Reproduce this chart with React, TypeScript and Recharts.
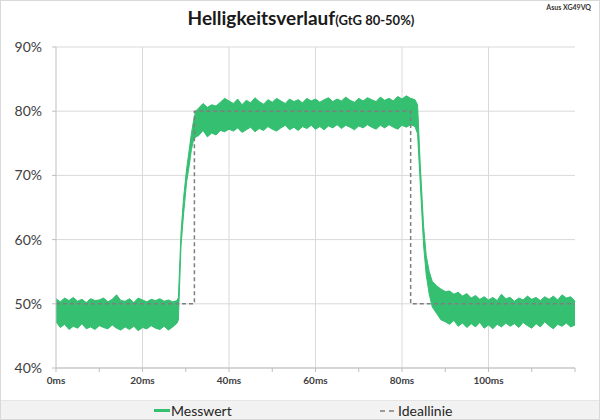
import React from "react";
import { ComposedChart, Area, Line, XAxis, YAxis, CartesianGrid } from "recharts";

// Messwert: Hüllkurve (min/max) des verrauschten Signals, in ms / %
const times = [
  0, 1, 2, 3, 4, 5, 6, 7, 8, 9, 10, 11, 12, 13, 14, 15, 16, 17, 18, 19, 20, 21, 22, 23, 24, 25, 26, 27, 28,
  28.3, 28.9, 29.5, 30.2, 30.8, 31.3, 31.8, 32.3, 33, 34,
  35, 36, 37, 38, 39, 40, 41, 42, 43, 44, 45, 46, 47, 48, 49, 50, 51, 52, 53, 54, 55, 56, 57, 58, 59,
  60, 61, 62, 63, 64, 65, 66, 67, 68, 69, 70, 71, 72, 73, 74, 75, 76, 77, 78, 79, 80, 81, 82, 83,
  83.6, 84.2, 85, 85.6, 86.3, 87, 88, 89, 90,
  91, 92, 93, 94, 95, 96, 97, 98, 99, 100, 101, 102, 103, 104, 105, 106, 107, 108, 109, 110,
  111, 112, 113, 114, 115, 116, 117, 118, 119, 120,
];
const lowValues = [
  47.2, 46.3, 46.8, 46.0, 46.5, 46.2, 46.9, 46.1, 46.4, 46.0, 46.6, 46.3, 46.1, 46.7, 46.2, 45.9, 46.4, 46.0, 46.5, 45.8, 46.3, 46.1, 46.6, 46.2, 46.0, 46.5, 45.9, 46.4, 47.0,
  47.5, 59, 64, 69, 71.5, 74, 75.5, 76, 76.2, 77,
  76.0, 76.6, 76.3, 77.0, 76.8, 77.2, 76.9, 77.4, 76.7, 77.1, 77.5, 76.8, 77.3, 77.0, 77.6, 77.2, 76.9, 77.4, 77.8, 77.1, 77.5, 77.0, 77.6, 77.3, 77.8,
  77.2, 77.6, 77.1, 77.7, 77.4, 77.9, 77.3, 77.8, 77.5, 77.1, 77.7, 77.4, 77.9, 77.5, 77.2, 77.8, 77.4, 77.9, 77.5, 77.2, 77.8, 77.5, 77.9, 77.6,
  76.5, 69, 59, 54.5, 51.5, 49.5, 48.5, 47.5, 47.2,
  46.8, 47.4, 46.5, 47.0, 46.3, 46.9, 46.4, 47.1, 46.2, 46.7, 46.1, 46.8, 46.4, 47.0, 46.5, 46.9, 46.3, 47.1, 46.6, 46.2,
  46.9, 46.4, 47.2, 46.6, 46.1, 46.8, 46.5, 47.0, 46.4, 46.7,
];
const highValues = [
  50.8, 50.3, 50.9, 50.5, 51.0, 50.4, 50.7, 50.2, 50.8, 50.5, 50.6, 50.9, 50.3, 50.7, 51.4, 50.5, 50.4, 50.8, 50.2, 50.9, 50.6, 50.3, 50.7, 50.5, 50.8, 50.4, 50.6, 50.3, 50.5,
  51, 61, 66.5, 71, 74, 76.5, 78.5, 80, 80.5, 81.2,
  80.6, 81.0, 80.8, 81.4, 82.0, 81.6, 81.2, 81.9, 81.0, 81.7, 81.3, 82.1, 81.5, 81.1, 81.8, 81.4, 82.0, 81.6, 81.2, 81.9, 81.5, 81.8, 81.3, 82.0, 81.6,
  81.9, 81.4, 81.8, 82.1, 81.5, 81.9, 81.6, 82.2, 81.7, 81.4, 82.0, 81.6, 82.1, 81.8, 81.5, 82.2, 81.7, 82.0, 81.6, 82.3, 81.9, 82.4, 82.0, 81.8,
  81.0, 72, 62, 57.5, 55, 53.5, 52.8, 52.3, 51.9,
  52.0, 51.5, 51.8, 51.2, 51.6, 50.9, 51.3, 50.7, 51.1, 50.6, 51.0, 50.5, 51.5, 50.8, 51.0, 50.4, 50.9, 50.6, 51.2, 50.7,
  51.0, 50.5, 51.1, 50.7, 51.2, 50.6, 51.4, 50.9, 51.1, 50.4,
];

// Ideallinie (Sprung 50% -> 80% -> 50%)
const idealTimes = [0, 32, 32, 82, 82, 120];
const idealValues = [50, 50, 80, 80, 50, 50];

const xTicks = [0, 10, 20, 30, 40, 50, 60, 70, 80, 90, 100, 110, 120];
const xGrid = [20, 40, 60, 80, 100];
const yTicks = [40, 50, 60, 70, 80, 90];

const messData = times.map((t, i) => ({ t, range: [lowValues[i], highValues[i]] }));
const idealData = idealTimes.map((t, i) => ({ t, ideal: idealValues[i] }));

const GREEN = "#34bf71";
const FONT = "Lato, 'Open Sans', sans-serif";

export default function App() {
  return (
    <div
      style={{
        position: "absolute",
        left: 0,
        top: 0,
        width: 600,
        height: 420,
        background: "#fff",
        fontFamily: FONT,
        boxSizing: "border-box",
        border: "1px solid #d9d9d9",
        overflow: "hidden",
      }}
    >
      <div style={{ position: "absolute", top: 5, left: 0, width: 600, textAlign: "center", color: "#1a1a1a" }}>
        <span style={{ fontSize: 19, fontWeight: 700 }}>Helligkeitsverlauf</span>
        <span style={{ fontSize: 13, fontWeight: 700 }}>(GtG 80-50%)</span>
      </div>
      <div style={{ position: "absolute", top: 2, right: 8, fontSize: 7, fontWeight: 700, color: "#333" }}>
        Asus XG49VQ
      </div>

      <div style={{ position: "absolute", left: -1, top: -1 }}>
        <ComposedChart width={600} height={420} margin={{ top: 47, right: 25, left: 0, bottom: 22 }}>
          <CartesianGrid stroke="#d9d9d9" verticalValues={xGrid} horizontalValues={yTicks} />
          <XAxis
            dataKey="t"
            type="number"
            domain={[0, 120]}
            ticks={xTicks}
            interval={0}
            allowDuplicatedCategory={false}
            height={30}
            stroke="#bfbfbf"
            tickSize={4}
            tickMargin={5}
            tick={{ fontSize: 10, fontWeight: 700, fill: "#404040", fontFamily: FONT }}
            tickFormatter={(v: number) => (v % 20 === 0 && v <= 100 ? `${v}ms` : "")}
          />
          <YAxis
            type="number"
            domain={[40, 90]}
            ticks={yTicks}
            width={56}
            stroke="#bfbfbf"
            tickSize={4}
            tickMargin={10}
            tick={{ fontSize: 14, fill: "#404040", fontFamily: FONT }}
            tickFormatter={(v: number) => `${v}%`}
          />
          <Area
            data={messData}
            dataKey="range"
            type="linear"
            stroke={GREEN}
            strokeWidth={1}
            fill={GREEN}
            fillOpacity={1}
            isAnimationActive={false}
          />
          <Line
            data={idealData}
            dataKey="ideal"
            type="linear"
            stroke="#7f7f7f"
            strokeWidth={1.5}
            strokeDasharray="4 3"
            dot={false}
            isAnimationActive={false}
          />
        </ComposedChart>
      </div>

      <div
        style={{
          position: "absolute",
          left: 0,
          top: 399,
          width: 600,
          height: 21,
          background: "#f2f2f2",
          borderTop: "1px solid #e6e6e6",
        }}
      >
        <div style={{ position: "absolute", left: 153, top: 1, display: "flex", alignItems: "center", fontSize: 14, color: "#262626" }}>
          <span style={{ display: "inline-block", width: 16, height: 3, background: GREEN, marginRight: 1 }} />
          Messwert
        </div>
        <div style={{ position: "absolute", left: 379, top: 1, display: "flex", alignItems: "center", fontSize: 14, color: "#262626" }}>
          <svg width={17} height={4} style={{ marginRight: 1 }}>
            <line x1={0} y1={2} x2={17} y2={2} stroke="#7f7f7f" strokeWidth={1.5} strokeDasharray="5 4" />
          </svg>
          Ideallinie
        </div>
      </div>
    </div>
  );
}
